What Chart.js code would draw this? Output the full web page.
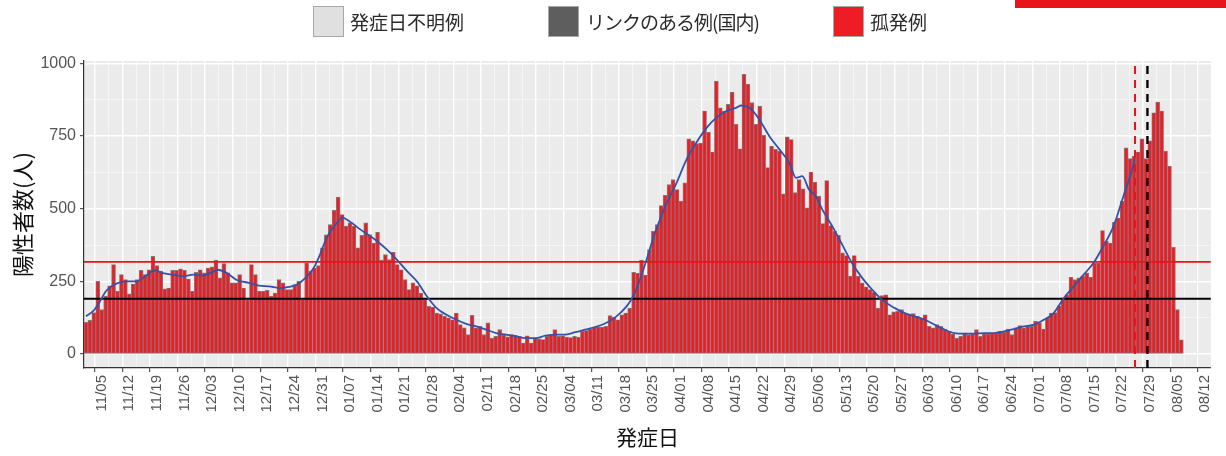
<!DOCTYPE html>
<html><head><meta charset="utf-8">
<script src="https://cdn.jsdelivr.net/npm/chart.js@4.4.1/dist/chart.umd.min.js"></script>
<style>
html,body{margin:0;padding:0;background:#fff;width:1226px;height:456px;overflow:hidden;}
#wrap{position:relative;width:1226px;height:456px;}
canvas{position:absolute;left:0;top:0;}
.lg{position:absolute;top:5px;height:32px;display:flex;align-items:center;font-family:'Noto Sans CJK JP',sans-serif;font-size:19px;color:#2a2a2a;white-space:nowrap;}
.lg i{display:inline-block;width:29px;height:29px;border:1.5px solid #a8a8a8;margin-right:6px;}
#banner{position:absolute;left:1015px;top:0;width:211px;height:8px;background:#e8141c;}
</style></head>
<body><div id="wrap">
<canvas id="c" width="1226" height="456"></canvas>
<div class="lg" style="left:313px"><i style="background:#e0e0e0"></i>発症日不明例</div>
<div class="lg" style="left:548px;letter-spacing:-1px"><i style="background:#5e5e5e;margin-right:7px"></i>リンクのある例(国内)</div>
<div class="lg" style="left:833px"><i style="background:#ee1d25"></i>孤発例</div>
<div id="banner"></div>
</div>
<script>
// ---- data ----
const startDate = [2020, 10, 1]; // 2020-11-01, first day on the axis
const isolated = [
109,116,143,250,153,199,235,308,216,273,
256,207,241,256,288,273,290,336,304,285,
224,227,288,288,293,288,258,216,281,290,
279,296,300,323,262,311,279,245,245,273,
227,187,308,273,216,216,219,199,210,256,
245,222,222,239,250,187,313,285,296,304,
365,410,445,494,540,480,440,451,440,365,
408,451,411,382,419,323,342,325,350,308,
290,256,222,245,235,210,187,164,161,141,
138,130,125,118,141,101,90,67,133,90,
95,67,107,55,61,84,67,59,67,64,
61,38,63,38,55,52,50,61,64,84,
61,63,58,57,61,58,78,81,86,92,
93,93,95,132,127,118,135,141,158,281,
278,323,272,359,422,445,511,546,583,600,
566,526,589,740,733,724,725,836,763,695,
939,847,836,859,901,790,706,962,928,865,
790,853,752,641,715,704,698,551,747,738,
555,600,568,503,626,591,543,449,597,442,
422,408,348,339,268,339,268,245,231,222,
212,158,201,204,135,145,147,153,141,135,
139,130,124,135,95,90,101,95,86,78,
69,55,61,72,67,69,84,61,69,69,
72,72,78,75,86,67,90,98,90,95,
95,113,107,86,124,141,143,166,193,204,
264,256,262,268,279,264,313,313,425,388,
382,453,468,526,709,672,681,695,740,672,
733,830,867,836,698,646,367,153,49,0,
0,0,0,0,0,0
];
const linkedDomestic = [];   // リンクのある例(国内) – no visible segments
const unknownOnset = [];     // 発症日不明例 – no visible segments

// smoothed trend line (blue), read at day positions
const smoothDay = [0,2,3.5,5,6.5,8.2,10.3,12.8,15.3,17.4,19.5,22.9,25,27.1,29.6,31.7,33.4,35.5,38.4,41.4,43.9,46.4,49.4,51.5,53.6,55.7,57.8,59.4,60.7,62.4,64.1,64.9,67,69.7,72.2,73.9,76.4,78.9,81.5,84,86.5,89,91.5,94,96.5,99.1,101.6,104.1,106.6,109.1,111.6,114.1,116.6,119.2,121.7,124.2,126.7,129.2,131.7,134.5,137.2,138.9,140.6,142.3,144,145.7,147.4,149.9,152.4,154.9,157.5,160,162.5,165,166.3,168.4,170.9,173.4,176,178.5,180.2,181.8,183.5,185.2,186.9,189.4,191.9,194.4,197,199.5,202,205.3,207.8,210.3,212.9,215.4,217.9,220.4,222.9,225.5,228,230.5,233,235.5,238.1,240.6,243.1,245.6,248.2,250.7,253.2,255.7,258.2,260.8,263.3,265,266.2];
const smoothValue = [130,150,180,215,233,245,250,250,270,288,278,271,268,273,270,279,290,281,254,245,235,233,227,231,239,262,296,342,388,430,457,470,455,428,405,388,359,325,285,250,199,158,135,118,104,95,84,72,67,61,55,55,63,67,67,75,84,93,105,128,164,199,256,325,400,463,520,589,669,727,778,813,836,847,855,847,807,750,704,658,606,612,566,543,497,440,377,313,262,222,187,158,141,130,118,101,84,72,70,70,72,72,78,86,95,101,118,141,193,233,273,313,371,440,543,612,669];

const redHline = 317;      // red horizontal reference
const blackHline = 190;    // black horizontal reference
const redVlineDay = 266.25;   // red dashed vertical (day index)
const blackVlineDay = 269.4;  // black dashed vertical (day index)

const tickLabels = ['11/05','11/12','11/19','11/26','12/03','12/10','12/17','12/24','12/31','01/07','01/14','01/21','01/28','02/04','02/11','02/18','02/25','03/04','03/11','03/18','03/25','04/01','04/08','04/15','04/22','04/29','05/06','05/13','05/20','05/27','06/03','06/10','06/17','06/24','07/01','07/08','07/15','07/22','07/29','08/05','08/12'];
const yTickLabels = [0,250,500,750,1000];
const yMinorGrid = [125,375,625,875];

// ---- derived structures ----
const categories = isolated.map((_, i) => {
  const d = new Date(startDate[0], startDate[1], startDate[2] + i);
  return String(d.getMonth()+1).padStart(2,'0') + '/' + String(d.getDate()).padStart(2,'0');
});
const majorIdx = tickLabels.map(l => categories.indexOf(l));
const majorSet = new Set(majorIdx);
const xMin = -0.5, xMax = categories.length - 0.5;
const yMin = -48, yMax = 1008;
const yMajorSet = new Set(yTickLabels);

const panelBg = {
  id: 'panelBg',
  beforeDraw(chart) {
    const {ctx, chartArea: a} = chart;
    ctx.save();
    ctx.fillStyle = '#ebebeb';
    ctx.fillRect(a.left, a.top, a.right - a.left, a.bottom - a.top);
    ctx.restore();
  }
};

const numFont = "'Liberation Sans', Arial, sans-serif";
const jpFont = "'Noto Sans CJK JP', sans-serif";

new Chart(document.getElementById('c'), {
  type: 'bar',
  plugins: [panelBg],
  data: {
    datasets: [
      { type: 'line', label: 'trend', data: smoothDay.map((d, k) => ({x: d, y: smoothValue[k]})),
        yAxisID: 'yRef', borderColor: '#3452a6', borderWidth: 1.8, pointRadius: 0, fill: false,
        cubicInterpolationMode: 'monotone', order: 1 },
      { type: 'line', label: 'redH', data: [{x: xMin, y: redHline}, {x: xMax, y: redHline}],
        yAxisID: 'yRef', borderColor: '#e8141c', borderWidth: 1.6, pointRadius: 0, order: 2 },
      { type: 'line', label: 'blackH', data: [{x: xMin, y: blackHline}, {x: xMax, y: blackHline}],
        yAxisID: 'yRef', borderColor: '#000000', borderWidth: 2, pointRadius: 0, order: 2 },
      { type: 'line', label: 'redV', data: [{x: redVlineDay, y: yMin}, {x: redVlineDay, y: yMax}],
        yAxisID: 'yRef', borderColor: '#e8141c', borderWidth: 2, borderDash: [8, 6], pointRadius: 0, order: 0 },
      { type: 'line', label: 'blackV', data: [{x: blackVlineDay, y: yMin}, {x: blackVlineDay, y: yMax}],
        yAxisID: 'yRef', borderColor: '#000000', borderWidth: 2.4, borderDash: [8, 6], pointRadius: 0, order: 0 },
      { label: '孤発例', data: isolated.map((v, i) => ({x: i, y: v})), yAxisID: 'y',
        backgroundColor: '#ee1c25', borderColor: '#7e7e7e', borderWidth: 0.9, borderSkipped: false,
        barPercentage: 1, categoryPercentage: 1, order: 10 },
      { label: 'リンクのある例(国内)', data: linkedDomestic, yAxisID: 'y',
        backgroundColor: '#5e5e5e', borderColor: '#7e7e7e', borderWidth: 0.9, borderSkipped: false,
        barPercentage: 1, categoryPercentage: 1, order: 11 },
      { label: '発症日不明例', data: unknownOnset, yAxisID: 'y',
        backgroundColor: '#e0e0e0', borderColor: '#7e7e7e', borderWidth: 0.9, borderSkipped: false,
        barPercentage: 1, categoryPercentage: 1, order: 12 }
    ]
  },
  options: {
    responsive: false,
    animation: false,
    devicePixelRatio: 1,
    layout: { padding: { top: 61, right: 8, left: 0, bottom: 0 } },
    plugins: { legend: { display: false }, tooltip: { enabled: false } },
    scales: {
      x: {
        type: 'linear', min: xMin, max: xMax, stacked: true, offset: false,
        afterBuildTicks: s => {
          const t = [];
          majorIdx.forEach(m => { if (m - 3.5 >= xMin) t.push({value: m - 3.5}); t.push({value: m}); });
          s.ticks = t;
        },
        afterFit: s => { s.height = 88; },
        grid: {
          color: c => (c.tick && majorSet.has(c.tick.value)) ? '#ffffff' : 'rgba(255,255,255,0.75)',
          lineWidth: c => (c.tick && majorSet.has(c.tick.value)) ? 1.4 : 0.7,
          tickColor: c => (c.tick && majorSet.has(c.tick.value)) ? '#333333' : 'rgba(0,0,0,0)',
          tickLength: 4, tickWidth: 1, drawTicks: true
        },
        border: { display: true, color: '#333333', width: 1.2 },
        ticks: {
          autoSkip: false, minRotation: 90, maxRotation: 90, padding: 3,
          color: '#555555', font: { size: 15, family: numFont },
          callback: v => majorSet.has(v) ? categories[v] : ''
        },
        title: { display: true, text: '発症日', color: '#111111',
          font: { size: 21, family: jpFont }, padding: { top: 0, bottom: 6 } }
      },
      y: {
        type: 'linear', min: yMin, max: yMax, stacked: true,
        afterBuildTicks: s => {
          s.ticks = yTickLabels.concat(yMinorGrid).sort((a, b) => a - b).map(v => ({value: v}));
        },
        afterFit: s => { s.width = 84; },
        grid: {
          color: c => (c.tick && yMajorSet.has(c.tick.value)) ? '#ffffff' : 'rgba(255,255,255,0.75)',
          lineWidth: c => (c.tick && yMajorSet.has(c.tick.value)) ? 1.4 : 0.7,
          tickColor: c => (c.tick && yMajorSet.has(c.tick.value)) ? '#333333' : 'rgba(0,0,0,0)',
          tickLength: 4, tickWidth: 1, drawTicks: true
        },
        border: { display: true, color: '#333333', width: 1.2 },
        ticks: {
          padding: 4, color: '#555555', font: { size: 16, family: numFont },
          callback: v => yMajorSet.has(v) ? String(v) : ''
        },
        title: { display: true, text: '陽性者数(人)', color: '#111111',
          font: { size: 22, family: jpFont }, padding: { top: 9, bottom: 0 } }
      },
      yRef: { type: 'linear', display: false, min: yMin, max: yMax }
    }
  }
});
</script>
</body></html>
